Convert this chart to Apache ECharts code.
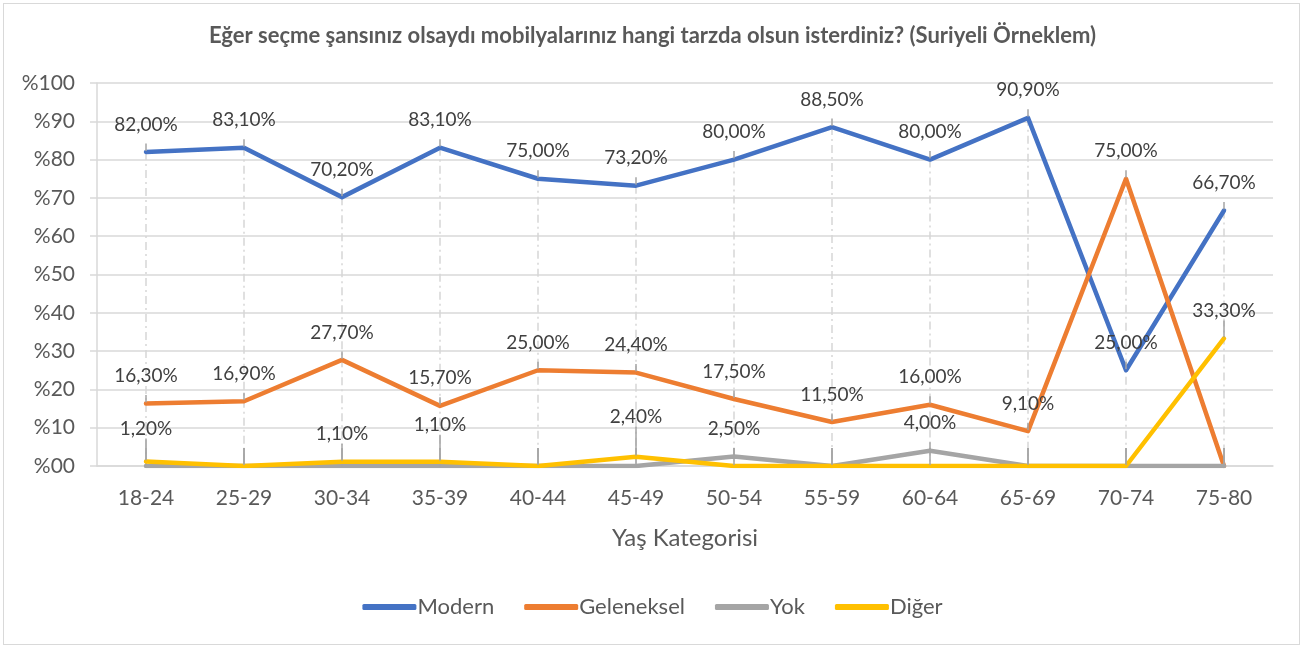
<!DOCTYPE html>
<html><head><meta charset="utf-8">
<script src="https://cdn.jsdelivr.net/npm/echarts@6/dist/echarts.min.js"></script>
<style>
html,body{margin:0;padding:0;background:#fff;}
#wrap{position:absolute;left:3px;top:3px;width:1297px;height:642px;border:1.5px solid #D9D9D9;box-sizing:border-box;}
#c{position:absolute;left:0;top:0;width:1305px;height:650px;}
</style></head>
<body><div id="wrap"></div><div id="c"></div>
<script>
const categories = ['18-24','25-29','30-34','35-39','40-44','45-49','50-54','55-59','60-64','65-69','70-74','75-80'];
const modern     = [82.0, 83.1, 70.2, 83.1, 75.0, 73.2, 80.0, 88.5, 80.0, 90.9, 25.0, 66.7];
const geleneksel = [16.3, 16.9, 27.7, 15.7, 25.0, 24.4, 17.5, 11.5, 16.0, 9.1, 75.0, 0];
const yok        = [0, 0, 0, 0, 0, 0, 2.5, 0, 4.0, 0, 0, 0];
const diger      = [1.2, 0, 1.1, 1.1, 0, 2.4, 0, 0, 0, 0, 0, 33.3];
const yTicks = [0,10,20,30,40,50,60,70,80,90,100];
const seriesNames = ['Modern','Geleneksel','Yok','Diğer'];
const colors = ['#4472C4','#ED7D31','#A5A5A5','#FFC000'];
const leaderShift = {3:{0:-5, 3:-9, 5:-12}};

const FONT = 'Lato';
const allSeries = [modern, geleneksel, yok, diger];
const dropTop = categories.map((c,i)=>Math.max(...allSeries.map(s=>s[i])));

function fmt(v){ return v===0 ? '' : v.toFixed(2).replace('.',',')+'%'; }

const chart = echarts.init(document.getElementById('c'));
const series = allSeries.map((arr,si)=>({
  name: seriesNames[si],
  type: 'line',
  data: arr,
  z: 3+si,
  symbol: 'circle',
  symbolSize: 2,
  showSymbol: true,
  lineStyle: {width: 4.5, color: colors[si], cap:'round', join:'round'},
  itemStyle: {color: colors[si]},
  label: {
    show: true, position: 'top', distance: 17,
    fontFamily: FONT, fontSize: 19, color: '#404040',
    formatter: p => fmt(p.value)
  },
  labelLine: {show: true, lineStyle:{color:'#A5A5A5', width:1.5}},
  labelLayout: (leaderShift[si] ? function(p){ const d = leaderShift[si][p.dataIndex]; return d!==undefined ? {dy:d} : {}; } : undefined)
}));
series.unshift({
  type:'custom',
  name:'drop',
  z:1,
  silent:true,
  data: dropTop.map((v,i)=>[i,v]),
  renderItem: function(params, api){
    const top = api.coord([api.value(0), api.value(1)]);
    const bot = api.coord([api.value(0), 0]);
    return {type:'line', shape:{x1:top[0],y1:top[1],x2:bot[0],y2:bot[1]},
      style:{stroke:'#D6D6D6', lineWidth:1.5, lineDash:[8,4,2,4]}};
  }
});

chart.setOption({
  animation:false,
  color: colors,
  title: {
    text: 'Eğer seçme şansınız olsaydı mobilyalarınız hangi tarzda olsun isterdiniz? (Suriyeli Örneklem)',
    left: 'center', top: 20,
    textStyle:{fontFamily:FONT, fontSize:22, fontWeight:'bold', color:'#595959'}
  },
  legend: {
    data: seriesNames, bottom: 27, left:'center',
    icon: 'roundRect', itemWidth: 54, itemHeight: 6, itemGap: 30,
    textStyle:{fontFamily:FONT, fontSize:22, color:'#595959', padding:[0,0,0,-4]}
  },
  grid: {left: 97, right: 32, top: 83, bottom: 184, containLabel:false},
  xAxis: {
    type:'category', data: categories, boundaryGap:true,
    name: 'Yaş Kategorisi', nameLocation:'middle', nameGap: 60,
    nameTextStyle:{fontFamily:FONT, fontSize:24, color:'#595959'},
    axisLine:{show:true, lineStyle:{color:'#D9D9D9', width:1.5}},
    axisTick:{show:false},
    axisLabel:{fontFamily:FONT, fontSize:21, color:'#595959', margin:22},
    splitLine:{show:false}
  },
  yAxis: {
    type:'value', min:0, max:100, interval:10,
    axisLine:{show:true, lineStyle:{color:'#D9D9D9', width:1.5}},
    axisTick:{show:true, inside:false, length:7, lineStyle:{color:'#D9D9D9', width:1.5}},
    axisLabel:{fontFamily:FONT, fontSize:21, color:'#595959', margin:22,
      formatter: v => '%' + (v<10 ? '0'+v : v)},
    splitLine:{show:true, lineStyle:{color:'#D9D9D9', width:1.5}}
  },
  series: series
});
</script></body></html>
